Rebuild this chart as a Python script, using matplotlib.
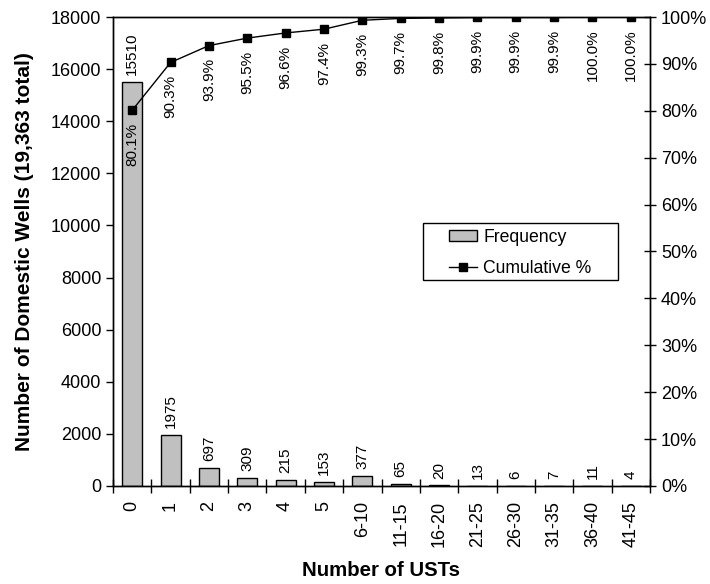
import matplotlib.pyplot as plt
from matplotlib.patches import Rectangle
import numpy as np

plt.rcParams['font.family'] = ['Liberation Sans', 'DejaVu Sans']

categories = ['0', '1', '2', '3', '4', '5', '6-10', '11-15', '16-20',
              '21-25', '26-30', '31-35', '36-40', '41-45']
frequency = [15510, 1975, 697, 309, 215, 153, 377, 65, 20, 13, 6, 7, 11, 4]
cumulative = [80.1, 90.3, 93.9, 95.5, 96.6, 97.4, 99.3, 99.7, 99.8,
              99.9, 99.9, 99.9, 100.0, 100.0]

W, H = 710, 584
fig = plt.figure(figsize=(W / 100, H / 100), dpi=100)
ax = fig.add_axes([113 / W, (H - 486) / H, (650 - 113) / W, (486 - 17) / H])
x = np.arange(len(categories))

bars = ax.bar(x, frequency, width=0.52, color='#c0c0c0', edgecolor='black',
              linewidth=1.0, label='Frequency', zorder=2)
for xi, v in zip(x, frequency):
    ax.annotate(str(v), (xi, v), xytext=(0, 5), textcoords='offset points',
                rotation=90, ha='center', va='bottom', fontsize=11)

ax.set_xlim(-0.5, len(categories) - 0.5)
ax.set_ylim(0, 18000)
ax.set_yticks(np.arange(0, 18001, 2000))
ax.set_xticks(x)
ax.set_xticklabels(categories, rotation=90, fontsize=13)
ax.set_xticks(np.arange(-0.5, len(categories), 1), minor=True)
ax.tick_params(axis='x', which='major', length=0, pad=11)
ax.tick_params(axis='x', which='minor', direction='inout', length=10, width=1)
ax.tick_params(axis='y', direction='out', length=5, width=1, labelsize=13)
for s in ax.spines.values():
    s.set_linewidth(1.0)

ax.set_xlabel('Number of USTs', fontsize=14.7, fontweight='bold', labelpad=10)
ax.set_ylabel('Number of Domestic Wells (19,363 total)', fontsize=15,
              fontweight='bold', labelpad=12)

ax2 = ax.twinx()
line, = ax2.plot(x, cumulative, color='black', linewidth=1.0, marker='s',
                 markersize=6, label='Cumulative %', zorder=3)
for xi, v in zip(x, cumulative):
    ax2.annotate('%.1f%%' % v, (xi, v), xytext=(0, -9), textcoords='offset points',
                 rotation=90, ha='center', va='top', fontsize=11)
ax2.set_ylim(0, 100)
ax2.set_yticks(np.arange(0, 101, 10))
ax2.set_yticklabels(['%d%%' % t for t in range(0, 101, 10)])
ax2.tick_params(axis='y', direction='inout', length=9, width=1, labelsize=13)
for s in ax2.spines.values():
    s.set_linewidth(1.0)

# legend box drawn separately (Excel-style wide padding)
ax2.add_patch(Rectangle((423 / W, (H - 280) / H), (618 - 423) / W, 57 / H,
                        transform=fig.transFigure, facecolor='white',
                        edgecolor='black', linewidth=1.0, zorder=4,
                        clip_on=False))
leg = ax2.legend([bars, line], ['Frequency', 'Cumulative %'], loc='upper left',
                 bbox_to_anchor=(449 / W, (H - 229) / H),
                 bbox_transform=fig.transFigure,
                 fontsize=12.7, frameon=False, handlelength=1.6,
                 handleheight=0.55, handletextpad=0.35, borderpad=0,
                 labelspacing=0.8, borderaxespad=0)
leg.set_zorder(6)

fig.savefig('out.png', dpi=100)
